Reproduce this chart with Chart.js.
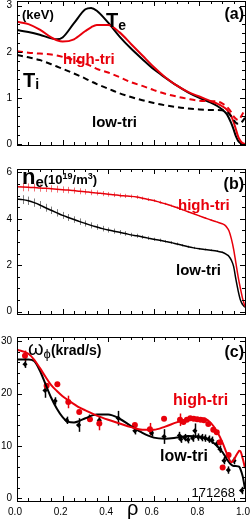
<!DOCTYPE html>
<html>
<head>
<meta charset="utf-8">
<script src="https://cdn.jsdelivr.net/npm/chart.js@4.4.0/dist/chart.umd.min.js"></script>
<style>
  html, body { margin: 0; padding: 0; background: #fff; }
  #wrap { position: relative; width: 251px; height: 519px; overflow: hidden; background: #fff; }
  canvas { position: absolute; left: 0; }
</style>
</head>
<body>
<div id="wrap">
  <canvas id="chartA" width="251" height="168" style="top:0px"></canvas>
  <canvas id="chartB" width="251" height="170" style="top:166px"></canvas>
  <canvas id="chartC" width="251" height="186" style="top:333px"></canvas>
</div>
<script>
// ---- (a) temperatures, keV ----
const rhoT = [0, 0.05, 0.1, 0.15, 0.175, 0.2, 0.25, 0.3, 0.325, 0.35, 0.4, 0.45, 0.5, 0.55, 0.6, 0.65, 0.7, 0.75, 0.8, 0.85, 0.88, 0.9, 0.92, 0.94, 0.95, 0.96, 0.97, 0.98, 0.99, 1.0];
const teLow = [2.47, 2.43, 2.37, 2.29, 2.27, 2.31, 2.62, 2.92, 2.95, 2.89, 2.63, 2.33, 2.07, 1.84, 1.62, 1.44, 1.27, 1.12, 1.0, 0.9, 0.82, 0.75, 0.65, 0.45, 0.32, 0.17, 0.07, 0.02, 0.0, 0.0];
const teHigh = [2.65, 2.6, 2.48, 2.31, 2.25, 2.22, 2.27, 2.45, 2.53, 2.58, 2.58, 2.42, 2.17, 1.92, 1.67, 1.45, 1.27, 1.13, 1.03, 0.93, 0.87, 0.82, 0.75, 0.6, 0.48, 0.32, 0.16, 0.07, 0.02, 0.0];
const tiHigh = [2.01, 1.98, 1.96, 1.94, 1.92, 1.89, 1.82, 1.74, 1.69, 1.63, 1.55, 1.45, 1.34, 1.26, 1.17, 1.09, 1.03, 0.98, 0.94, 0.93, 0.92, 0.88, 0.81, 0.69, 0.6, 0.55, 0.52, 0.57, 0.66, 0.75];
const tiLow = [1.93, 1.88, 1.82, 1.73, 1.68, 1.63, 1.53, 1.42, 1.36, 1.3, 1.2, 1.1, 1.02, 0.95, 0.89, 0.84, 0.8, 0.77, 0.75, 0.74, 0.74, 0.73, 0.7, 0.6, 0.53, 0.46, 0.44, 0.45, 0.5, 0.57];
const tTicks = [0, 1, 2, 3];

// ---- (b) density, 10^19 m^-3 ----
const rhoN = [0, 0.025, 0.05, 0.075, 0.1, 0.125, 0.15, 0.175, 0.2, 0.225, 0.25, 0.275, 0.3, 0.325, 0.35, 0.375, 0.4, 0.425, 0.45, 0.475, 0.5, 0.525, 0.55, 0.575, 0.6, 0.625, 0.65, 0.675, 0.7, 0.725, 0.75, 0.775, 0.8, 0.825, 0.85, 0.875, 0.9, 0.91, 0.92, 0.93, 0.94, 0.95, 0.96, 0.97, 0.98, 0.99, 1.0];
const neHigh = [5.38, 5.37, 5.36, 5.35, 5.33, 5.32, 5.30, 5.28, 5.26, 5.24, 5.22, 5.19, 5.17, 5.14, 5.12, 5.09, 5.06, 5.04, 5.01, 4.99, 4.97, 4.94, 4.89, 4.84, 4.79, 4.72, 4.65, 4.57, 4.49, 4.40, 4.31, 4.22, 4.13, 4.04, 3.95, 3.87, 3.79, 3.74, 3.64, 3.48, 3.15, 2.7, 2.1, 1.5, 1.0, 0.55, 0.22];
const neLow = [4.85, 4.83, 4.78, 4.70, 4.60, 4.48, 4.37, 4.26, 4.15, 4.06, 3.97, 3.88, 3.80, 3.72, 3.65, 3.58, 3.52, 3.47, 3.42, 3.37, 3.31, 3.27, 3.22, 3.17, 3.12, 3.08, 3.03, 2.98, 2.92, 2.86, 2.80, 2.75, 2.71, 2.68, 2.65, 2.62, 2.56, 2.52, 2.46, 2.38, 2.22, 1.95, 1.4, 0.9, 0.5, 0.3, 0.19];
const neHighErr = [0.18, 0.18, 0.17, 0.17, 0.16, 0.16, 0.15, 0.15, 0.14, 0.14, 0.13, 0.13, 0.12, 0.12, 0.11, 0.11, 0.10, 0.10, 0.09, 0.09, 0.08, 0.08, 0.07, 0.07, 0.06, 0.06, 0.05, 0.05, 0.05, 0.04, 0.04, 0.04, 0.03, 0.03, 0.03, 0.02, 0.02, 0, 0, 0, 0, 0, 0, 0, 0, 0, 0];
const neLowErr = [0.19, 0.19, 0.18, 0.18, 0.17, 0.17, 0.16, 0.16, 0.15, 0.15, 0.14, 0.14, 0.13, 0.13, 0.12, 0.12, 0.11, 0.11, 0.10, 0.10, 0.09, 0.09, 0.08, 0.08, 0.07, 0.07, 0.06, 0.06, 0.06, 0.05, 0.05, 0.05, 0.04, 0.04, 0.04, 0.03, 0.03, 0, 0, 0, 0, 0, 0, 0, 0, 0, 0];
const nTicks = [0, 2, 4, 6];

// ---- (c) toroidal rotation, krad/s ----
const rhoW = [0, 0.05, 0.075, 0.1, 0.125, 0.15, 0.175, 0.2, 0.225, 0.25, 0.275, 0.3, 0.35, 0.4, 0.45, 0.5, 0.55, 0.6, 0.65, 0.7, 0.75, 0.8, 0.825, 0.85, 0.875, 0.9, 0.92, 0.94, 0.95, 0.96, 0.97, 0.975, 0.98, 0.99, 1.0];
const wHighFit = [28.4, 27.6, 26.5, 24.9, 23.2, 21.6, 20.5, 19.5, 18.7, 18.0, 17.3, 16.8, 15.8, 15.0, 14.3, 13.6, 13.1, 13.1, 13.7, 14.5, 15.1, 15.3, 15.2, 14.4, 12.9, 10.8, 8.6, 6.9, 7.3, 8.1, 8.8, 9.1, 9.0, 7.6, 5.8];
const wLowFit = [26.5, 26.5, 26.2, 24.4, 21.8, 19.2, 17.1, 15.5, 14.6, 14.5, 14.8, 15.3, 16.0, 16.0, 15.2, 13.8, 12.5, 11.6, 11.4, 11.6, 11.9, 11.8, 11.5, 11.0, 10.1, 8.9, 7.5, 6.4, 6.2, 6.2, 6.1, 6.0, 5.6, 4.2, 1.8];
const wHighRho = [0.035, 0.13, 0.177, 0.225, 0.273, 0.32, 0.361, 0.517, 0.583, 0.645, 0.715, 0.73, 0.745, 0.76, 0.775, 0.79, 0.805, 0.82, 0.839, 0.861, 0.876, 0.89, 0.902, 0.928];
const wHighVal = [27.2, 21.5, 21.8, 18.4, 16.5, 15.1, 14.3, 14.0, 13.2, 15.2, 15.0, 14.6, 15.0, 15.3, 15.2, 15.1, 15.0, 14.9, 14.2, 13.1, 12.6, 10.7, 5.9, 8.3];
const wHighErr = [1.0, 0, 0, 1.2, 0, 0, 1.3, 0, 1.2, 0, 1.2, 0, 0, 0, 0, 0, 0, 0, 0, 0, 0, 0, 0, 0];
const wLowRho = [0.035, 0.123, 0.167, 0.218, 0.27, 0.317, 0.361, 0.444, 0.517, 0.59, 0.645, 0.712, 0.718, 0.735, 0.75, 0.77, 0.78, 0.795, 0.81, 0.825, 0.84, 0.855, 0.876, 0.89, 0.908, 0.927, 0.952, 0.985];
const wLowVal = [25.6, 20.6, 18.6, 14.9, 14.0, 15.3, 14.9, 15.3, 12.9, 12.5, 11.8, 12.0, 11.3, 11.6, 11.2, 11.5, 12.9, 11.7, 11.6, 11.5, 11.3, 11.1, 10.4, 9.4, 7.2, 5.4, 7.2, 1.5];
const wLowErr = [0.7, 1.4, 0.7, 0.7, 1.3, 0.7, 0.7, 1.4, 0.7, 0.7, 1.4, 0.7, 0.7, 0.7, 0.7, 0.7, 1.4, 0.7, 0.7, 0.7, 0.7, 0.7, 0.7, 0.7, 0.7, 0.7, 0.7, 0.7];
const wTicks = [0, 10, 20, 30];

const rhoTicks = [0, 0.2, 0.4, 0.6, 0.8, 1.0];

const RED = "#e8000b";
const FONT = "Liberation Sans, Arial, sans-serif";
Chart.defaults.font.family = FONT;
Chart.defaults.color = "#000";

const xy = (xs, ys) => xs.map((x, i) => ({ x, y: ys[i] }));

// vertical error bars, drawn under the marks
const errorBars = {
  id: "errorBars",
  beforeDatasetsDraw(chart) {
    const ctx = chart.ctx;
    const ys = chart.scales.y;
    chart.data.datasets.forEach((ds, i) => {
      if (!ds.errors) return;
      const meta = chart.getDatasetMeta(i);
      ctx.save();
      ctx.strokeStyle = ds.errorColor;
      ctx.lineWidth = ds.errorWidth || 1;
      meta.data.forEach((pt, k) => {
        const e = ds.errors[k];
        if (!e) return;
        const v = ds.data[k].y;
        const px = Math.round(pt.x) + 0.5;
        ctx.beginPath();
        ctx.moveTo(px, ys.getPixelForValue(v - e));
        ctx.lineTo(px, ys.getPixelForValue(v + e));
        ctx.stroke();
      });
      ctx.restore();
    });
  },
};

// box around the plot with inward ticks on all four sides
const frame = {
  id: "frame",
  afterDraw(chart, args, opts) {
    const ctx = chart.ctx;
    const a = chart.chartArea;
    const xs = chart.scales.x;
    const ys = chart.scales.y;
    ctx.save();
    ctx.strokeStyle = "#000";
    ctx.lineWidth = 1;
    ctx.strokeRect(Math.round(a.left) + 0.5, Math.round(a.top) + 0.5,
      Math.round(a.right - a.left), Math.round(a.bottom - a.top));
    const marks = (min, max, step, major) => {
      const out = [];
      for (let k = Math.ceil(min / step - 1e-9); k * step <= max + 1e-9; k++) {
        const v = k * step;
        out.push([v, Math.abs(v / major - Math.round(v / major)) < 1e-6]);
      }
      return out;
    };
    ctx.beginPath();
    marks(xs.min, xs.max, opts.xMinor, opts.xMajor).forEach(([v, big]) => {
      const px = Math.round(xs.getPixelForValue(v)) + 0.5;
      const len = big ? 5 : 3;
      ctx.moveTo(px, a.bottom); ctx.lineTo(px, a.bottom - len);
      ctx.moveTo(px, a.top); ctx.lineTo(px, a.top + len);
    });
    marks(ys.min, ys.max, opts.yMinor, opts.yMajor).forEach(([v, big]) => {
      const py = Math.round(ys.getPixelForValue(v)) + 0.5;
      const len = big ? 5 : 3;
      ctx.moveTo(a.left, py); ctx.lineTo(a.left + len, py);
      ctx.moveTo(a.right, py); ctx.lineTo(a.right - len, py);
    });
    ctx.stroke();
    ctx.restore();
  },
};

// free text labels, positions given in page pixels
const notes = {
  id: "notes",
  afterDraw(chart, args, opts) {
    const ctx = chart.ctx;
    ctx.save();
    ctx.textBaseline = "alphabetic";
    ctx.textAlign = "left";
    (opts.items || []).forEach((it) => {
      let width = 0;
      it.parts.forEach(([t, f]) => { ctx.font = f; width += ctx.measureText(t).width; });
      let x = it.align === "right" ? it.x - width : it.x;
      ctx.fillStyle = it.color || "#000";
      it.parts.forEach(([t, f, dy]) => {
        ctx.font = f;
        ctx.fillText(t, x, it.y - opts.top + (dy || 0));
        x += ctx.measureText(t).width;
      });
    });
    ctx.restore();
  },
};

function makePanel(id, datasets, yRange, yTicks, yMinor, showX, padding, frameTop, items) {
  return new Chart(document.getElementById(id), {
    type: "line",
    data: { datasets },
    plugins: [errorBars, frame, notes],
    options: {
      responsive: false,
      animation: false,
      events: [],
      layout: { padding },
      plugins: {
        legend: { display: false },
        tooltip: { enabled: false },
        frame: { xMinor: 0.05, xMajor: 0.2, yMinor, yMajor: yTicks[1] - yTicks[0] },
        notes: { top: frameTop, items },
      },
      scales: {
        x: {
          type: "linear",
          min: 0,
          max: 1,
          display: showX,
          grid: { display: false, drawTicks: false },
          border: { display: false },
          afterBuildTicks: (s) => { s.ticks = rhoTicks.map((v) => ({ value: v })); },
          ticks: {
            font: { size: 10 },
            padding: 5,
            labelOffset: -2,
            maxRotation: 0,
            autoSkip: false,
            callback: (v) => v.toFixed(1),
          },
          afterFit: (s) => { s.height = 18; s.paddingLeft = 0; s.paddingRight = 0; },
        },
        y: {
          type: "linear",
          min: yRange[0],
          max: yRange[1],
          grid: { display: false, drawTicks: false },
          border: { display: false },
          afterBuildTicks: (s) => { s.ticks = yTicks.map((v) => ({ value: v })); },
          ticks: { font: { size: 10 }, padding: 5 },
          afterFit: (s) => { s.width = 17; s.paddingTop = 0; s.paddingBottom = 0; },
        },
      },
    },
  });
}

const line = (xs, ys, color, extra) => Object.assign({
  data: xy(xs, ys),
  borderColor: color,
  backgroundColor: color,
  borderWidth: 2,
  pointRadius: 0,
  fill: false,
  cubicInterpolationMode: "monotone",
}, extra || {});

// (a)
makePanel("chartA", [
  line(rhoT, tiHigh, RED, { borderDash: [6, 4] }),
  line(rhoT, tiLow, "#000", { borderDash: [6, 4] }),
  line(rhoT, teHigh, RED),
  line(rhoT, teLow, "#000"),
], [-0.02, 3.1], tTicks, 0.2, false, { left: 0, right: 6, top: 1, bottom: 5 }, 0, [
  { x: 22, y: 19, parts: [["(keV)", "bold 13px " + FONT]] },
  { x: 244, y: 19, align: "right", parts: [["(a)", "bold 16px " + FONT]] },
  { x: 106, y: 27, parts: [["T", "bold 20px " + FONT], ["e", "bold 14px " + FONT, 3]] },
  { x: 23, y: 87, parts: [["T", "bold 20px " + FONT], ["i", "bold 14px " + FONT, 2]] },
  { x: 63, y: 64, color: RED, parts: [["high-tri", "bold 15px " + FONT]] },
  { x: 92, y: 127, parts: [["low-tri", "bold 15px " + FONT]] },
]);

// (b)
makePanel("chartB", [
  line(rhoN, neHigh, RED, {
    borderWidth: 1.5, errors: neHighErr, errorColor: "rgba(232,0,11,0.55)",
  }),
  line(rhoN, neLow, "#000", {
    borderWidth: 1.5, errors: neLowErr, errorColor: "rgba(0,0,0,0.5)",
  }),
], [-0.1, 6.15], nTicks, 0.5, false, { left: 0, right: 6, top: 3, bottom: 4 }, 166, [
  { x: 22, y: 184, parts: [["n", "bold 22px " + FONT], ["e", "bold 15px " + FONT, 3],
    ["(10", "bold 13px " + FONT], ["19", "bold 9px " + FONT, -5], ["/m", "bold 13px " + FONT],
    ["3", "bold 9px " + FONT, -5], [")", "bold 13px " + FONT]] },
  { x: 244, y: 189, align: "right", parts: [["(b)", "bold 16px " + FONT]] },
  { x: 178, y: 210, color: RED, parts: [["high-tri", "bold 15px " + FONT]] },
  { x: 176, y: 275, parts: [["low-tri", "bold 15px " + FONT]] },
]);

// (c)
makePanel("chartC", [
  line(rhoW, wHighFit, RED),
  line(rhoW, wLowFit, "#000"),
  {
    data: xy(wHighRho, wHighVal), showLine: false, pointStyle: "circle", pointRadius: 3,
    pointBackgroundColor: RED, pointBorderWidth: 0,
    errors: wHighErr, errorColor: RED, errorWidth: 1.5,
  },
  {
    data: xy(wLowRho, wLowVal), showLine: false, pointStyle: "rectRot", pointRadius: 2.6,
    pointBackgroundColor: "#000", pointBorderWidth: 0,
    errors: wLowErr, errorColor: "#000", errorWidth: 1.5,
  },
], [-0.5, 30.8], wTicks, 2, true, { left: 0, right: 6, top: 3, bottom: 0 }, 333, [
  { x: 28, y: 355, parts: [["ω", "20px " + FONT], ["ϕ", "13px " + FONT + ", DejaVu Sans", 3],
    ["(krad/s)", "bold 14px " + FONT]] },
  { x: 244, y: 357, align: "right", parts: [["(c)", "bold 16px " + FONT]] },
  { x: 173, y: 405, color: RED, parts: [["high-tri", "bold 16px " + FONT]] },
  { x: 160, y: 461, parts: [["low-tri", "bold 16px " + FONT]] },
  { x: 235, y: 497, align: "right", parts: [["171268", "13px " + FONT]] },
  { x: 127, y: 515, parts: [["ρ", "20px " + FONT]] },
]);
</script>
</body>
</html>
